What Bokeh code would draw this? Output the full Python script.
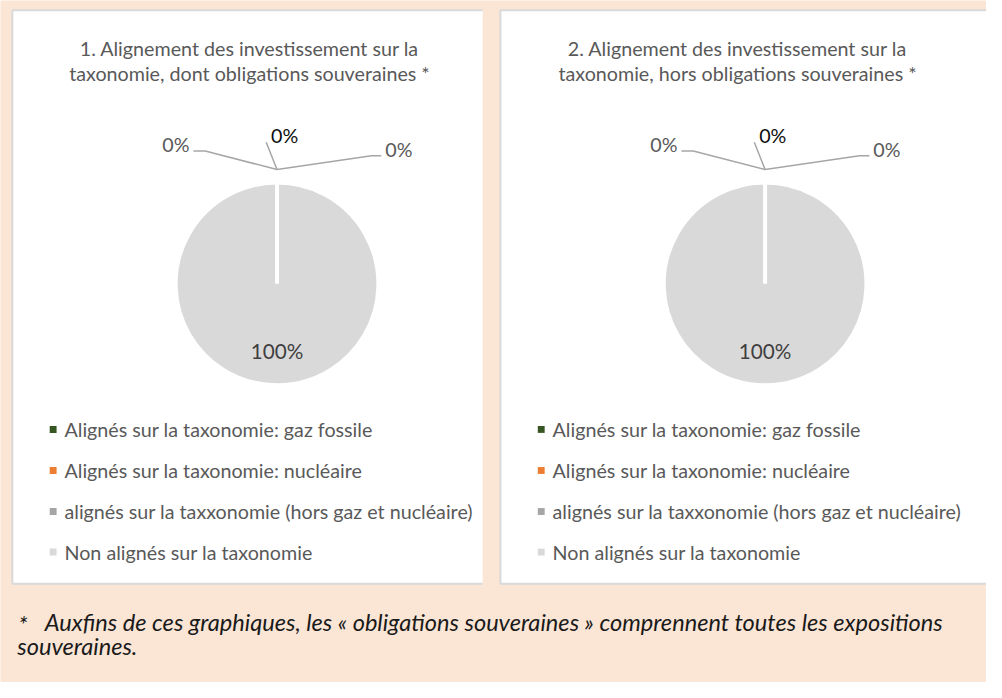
import math
from bokeh.plotting import figure
from bokeh.models import Range1d, ColumnDataSource
from bokeh.core.properties import value
from bokeh.embed import file_html
from bokeh.resources import INLINE

# ---------------- data ----------------
categories = [
    "Alignés sur la taxonomie: gaz fossile",
    "Alignés sur la taxonomie: nucléaire",
    "alignés sur la taxxonomie (hors gaz et nucléaire)",
    "Non alignés sur la taxonomie",
]
colors = ["#375623", "#ED7D31", "#A5A5A5", "#D9D9D9"]
values_incl_sov = [0, 0, 0, 100]   # chart 1 (%)
values_excl_sov = [0, 0, 0, 100]   # chart 2 (%)
titles = [
    ["1. Alignement des investissement sur la", "taxonomie, dont obligations souveraines *"],
    ["2. Alignement des investissement sur la", "taxonomie, hors obligations souveraines *"],
]
footnote = ["Auxfins de  ces graphiques, les « obligations souveraines » comprennent toutes les expositions",
            "souveraines."]

# ---------------- style ----------------
BG = "#FBE6D6"
FONT = "Lato"
TXT = "#595959"
W, H = 986, 682
REF_W, REF_H = 1002, 698
S = W / REF_W

def fs(px):
    return f"{px * S:.1f}px"

p = figure(width=W, height=H, x_range=Range1d(0, REF_W), y_range=Range1d(REF_H, 0),
           output_backend="svg", toolbar_location=None, min_border=0)
p.axis.visible = False
p.grid.visible = False
p.outline_line_color = None
p.background_fill_color = BG
p.border_fill_color = BG

panel_dx = 496
R = 101
EPS = 1e-4  # keeps a full-circle slice from collapsing to an empty SVG arc

def draw_panel(k, vals, title):
    ox = k * panel_dx
    left, right, top, bottom = 12 + ox, 490 + ox, 10, 597
    rr = right + (40 if k else 0)
    p.quad(left=[left], right=[rr], top=[top], bottom=[bottom], fill_color="white", line_color=None)
    p.multi_line(xs=[[rr, left, left, rr]], ys=[[top, top, bottom, bottom]],
                 line_color="#D9D9D9", line_width=2)
    # title
    tcx = 253 + ox
    p.text(x=[tcx, tcx], y=[49, 75], text=title, text_align="center", text_baseline="middle",
           text_font=value(FONT), text_font_size=fs(20), text_color=TXT)
    # pie
    cx, cy = 281 + ox, 290
    total = sum(vals)
    starts, ends, acc = [], [], 0.0
    for v in vals:
        starts.append(math.pi / 2 - 2 * math.pi * acc / total)
        acc += v
        ends.append(math.pi / 2 - 2 * math.pi * acc / total)
    nz = [i for i in range(len(vals)) if vals[i] > 0]
    draw_end = [max(ends[i], starts[i] - 2 * math.pi + EPS) for i in nz]
    src = ColumnDataSource(dict(x=[cx] * len(nz), y=[cy] * len(nz),
                                start=[starts[i] for i in nz], end=draw_end,
                                color=[colors[i] for i in nz]))
    p.wedge(x="x", y="y", radius=(R + 2) * S, radius_units="screen", start_angle="start", end_angle="end",
            direction="clock", fill_color="color", line_color="white", line_width=4, source=src)
    mids = [(s + e) / 2 for s, e in zip(starts, ends)]
    big = max(range(len(vals)), key=lambda i: vals[i])
    mx = cx + 0.68 * R * math.cos(mids[big])
    my = cy - 0.68 * R * math.sin(mids[big])
    p.text(x=[mx], y=[my], text=[f"{vals[big]:.0f}%"], text_align="center", text_baseline="middle",
           text_font=value(FONT), text_font_size=fs(21), text_color="#404040")
    # small slices: labels outside with leader lines from the pie's top
    small = [i for i in range(len(vals)) if i != big]
    i0, i1, i2 = small
    apx = cx + (R + 16) * math.cos(mids[i0])
    apy = cy - (R + 16) * math.sin(mids[i0])
    p.line(x=[apx, cx - 73, cx - 85], y=[apy, cy - 136, cy - 136], line_color="#A6A6A6", line_width=1.5)
    p.text(x=[cx - 89], y=[cy - 142.5], text=[f"{vals[i0]:.0f}%"], text_align="right", text_baseline="middle",
           text_font=value(FONT), text_font_size=fs(20), text_color=TXT)
    p.line(x=[apx, cx - 11], y=[apy, cy - 145], line_color="#A6A6A6", line_width=1.5)
    p.text(x=[cx - 6], y=[cy - 151.5], text=[f"{vals[i1]:.0f}%"], text_align="left", text_baseline="middle",
           text_font=value(FONT), text_font_size=fs(20), text_color="#0D0D0D")
    p.line(x=[apx, cx + 96, cx + 106], y=[apy, cy - 131, cy - 131], line_color="#A6A6A6", line_width=1.5)
    p.text(x=[cx + 110], y=[cy - 137.5], text=[f"{vals[i2]:.0f}%"], text_align="left", text_baseline="middle",
           text_font=value(FONT), text_font_size=fs(20), text_color=TXT)
    # legend
    ly = [439, 481, 523, 564.5]
    p.scatter(x=[53.5 + ox] * 4, y=ly, marker="square", size=7 * S, fill_color=colors, line_color=None)
    p.text(x=[65 + ox] * 4, y=ly, text=categories, text_align="left",
           text_baseline="middle", text_font=value(FONT), text_font_size=fs(20), text_color=TXT)

draw_panel(0, values_incl_sov, titles[0])
draw_panel(1, values_excl_sov, titles[1])

# footnote
p.text(x=[18], y=[638], text=["*"], text_baseline="middle", text_font=value(FONT),
       text_font_size=fs(24), text_font_style="italic", text_color="#1A1A1A")
p.text(x=[45, 17], y=[636.5, 660.5], text=footnote, text_baseline="middle", text_font=value(FONT),
       text_font_size=fs(24), text_font_style="italic", text_color="#1A1A1A")

open("out.html", "w").write(file_html(p, INLINE))
